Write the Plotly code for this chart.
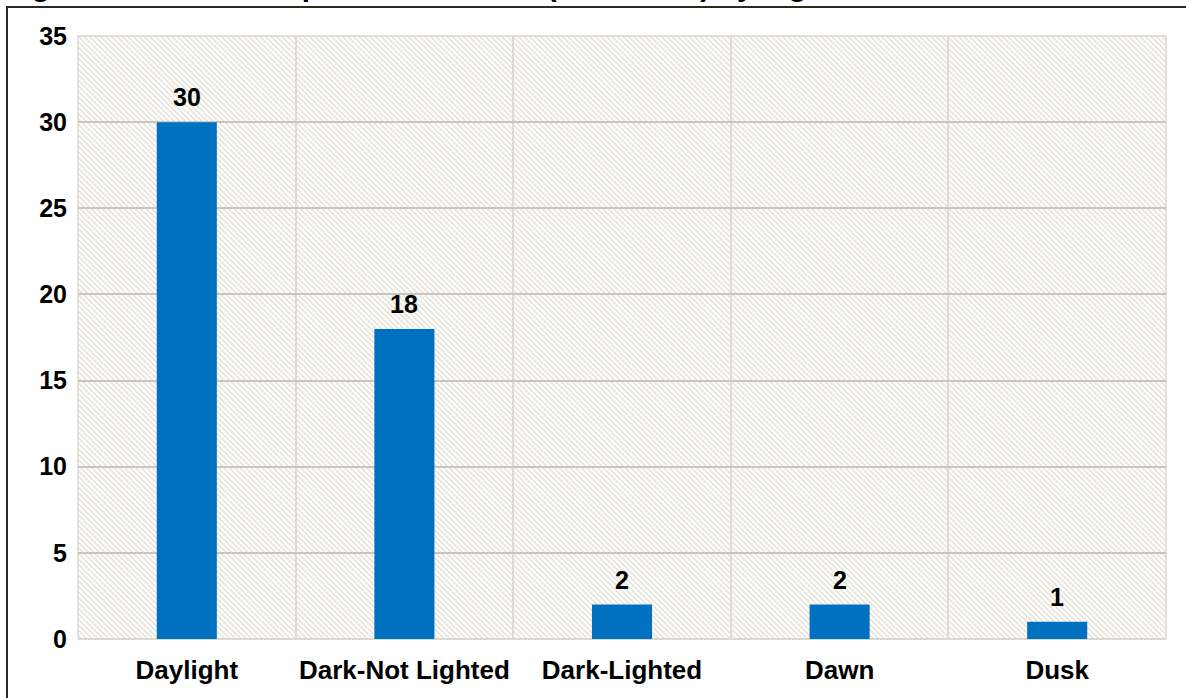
import base64
import plotly.graph_objects as go

categories = ["Daylight", "Dark-Not Lighted", "Dark-Lighted", "Dawn", "Dusk"]
values = [30, 18, 2, 2, 1]
y_ticks = [0, 5, 10, 15, 20, 25, 30, 35]
title_text = "Figure 10. Traffic Stop Fatal Incidents (2016-2018) by Light Condition"

W, H = 1186, 698
ML, MR, MT, MB = 78, 20, 36, 59
PW, PH = W - ML - MR, H - MT - MB

svg = (
    f'<svg xmlns="http://www.w3.org/2000/svg" width="{PW}" height="{PH}" '
    f'viewBox="0 0 {PW} {PH}" preserveAspectRatio="none">'
    '<defs><pattern id="p" width="5.5" height="5.5" patternUnits="userSpaceOnUse">'
    '<path d="M-1,-1 L6.5,6.5 M-1,4.5 L1,6.5 M4.5,-1 L6.5,1" stroke="#dedbcf" stroke-width="1.3"/>'
    '</pattern></defs>'
    f'<rect width="{PW}" height="{PH}" fill="white"/>'
    f'<rect width="{PW}" height="{PH}" fill="url(#p)"/></svg>'
)
uri = "data:image/svg+xml;base64," + base64.b64encode(svg.encode()).decode()

FONT = "Liberation Sans, Arial, sans-serif"

fig = go.Figure(
    go.Bar(
        x=categories,
        y=values,
        marker=dict(color="#0070C0", line=dict(width=0)),
        hoverinfo="x+y",
    )
)

label_annotations = [
    dict(
        x=c,
        y=v,
        xref="x",
        yref="y",
        text=f"<b>{v}</b>",
        showarrow=False,
        yanchor="bottom",
        yshift=9,
        font=dict(family=FONT, size=25, color="black"),
    )
    for c, v in zip(categories, values)
]

fig.update_layout(
    width=W,
    height=H,
    margin=dict(l=ML, r=MR, t=MT, b=MB, autoexpand=False),
    paper_bgcolor="white",
    plot_bgcolor="rgba(0,0,0,0)",
    bargap=0.724,
    showlegend=False,
    font=dict(family=FONT, color="black"),
    images=[
        dict(
            source=uri,
            xref="paper",
            yref="paper",
            x=0,
            y=1,
            sizex=1,
            sizey=1,
            sizing="stretch",
            xanchor="left",
            yanchor="top",
            layer="below",
        )
    ],
    shapes=[
        dict(
            type="rect",
            xref="paper",
            yref="paper",
            x0=(7 - ML) / PW,
            x1=1.2,
            y0=-0.3,
            y1=(H - MB - 7) / PH,
            line=dict(color="#2b2a20", width=2),
            fillcolor="rgba(0,0,0,0)",
            layer="below",
        ),
        dict(
            type="rect",
            xref="paper",
            yref="paper",
            x0=0,
            x1=1,
            y0=0,
            y1=1,
            line=dict(color="#dcd9ce", width=1.5),
            fillcolor="rgba(0,0,0,0)",
            layer="below",
        ),
    ],
    annotations=label_annotations
    + [
        dict(
            text=f"<b>{title_text}</b>",
            xref="paper",
            yref="paper",
            x=(3 - ML) / PW,
            y=(H - MB - 4) / PH,
            xanchor="left",
            yanchor="bottom",
            showarrow=False,
            font=dict(family=FONT, size=30, color="black"),
        )
    ],
)

fig.update_xaxes(
    type="category",
    tickson="boundaries",
    showgrid=True,
    gridcolor="#dedbd0",
    gridwidth=1.5,
    ticks="",
    showline=False,
    tickangle=0,
    automargin=False,
    tickfont=dict(family=FONT, size=26, color="black", weight="bold"),
    ticklabelstandoff=13,
)
fig.update_yaxes(
    range=[0, 35],
    tickvals=y_ticks,
    showgrid=True,
    gridcolor="#c9c7bd",
    gridwidth=2,
    zeroline=True,
    zerolinecolor="#dcd9ce",
    zerolinewidth=2,
    ticks="",
    showline=False,
    automargin=False,
    tickfont=dict(family=FONT, size=25, color="black", weight="bold"),
    ticklabelstandoff=10,
)

fig.write_html(
    "out.html",
    config={"displayModeBar": False},
    post_script="document.body.style.margin='0';document.body.style.overflow='hidden';",
)
